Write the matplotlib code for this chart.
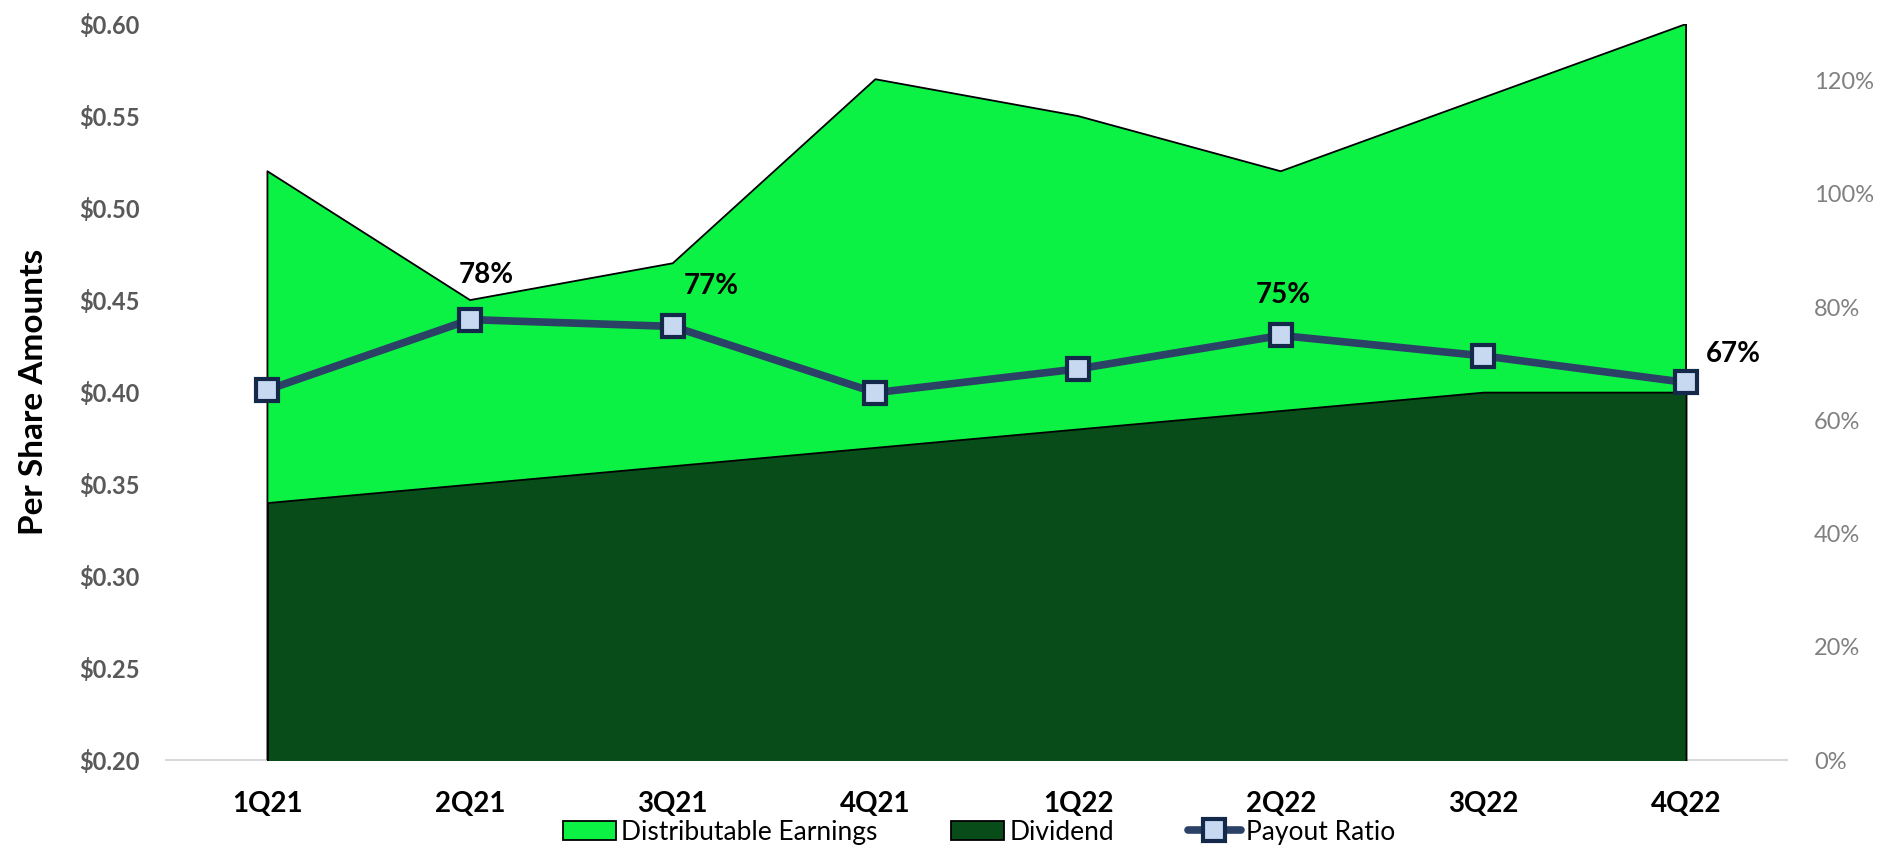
import matplotlib.pyplot as plt
import matplotlib as mpl
import numpy as np
from matplotlib.ticker import FuncFormatter

mpl.rcParams['font.family'] = ['Lato', 'DejaVu Sans']

quarters = ['1Q21', '2Q21', '3Q21', '4Q21', '1Q22', '2Q22', '3Q22', '4Q22']
distributable = [0.52, 0.45, 0.47, 0.57, 0.55, 0.52, 0.56, 0.60]
dividend = [0.34, 0.35, 0.36, 0.37, 0.38, 0.39, 0.40, 0.40]
payout = [0.654, 0.778, 0.766, 0.649, 0.691, 0.75, 0.714, 0.667]
labeled = {1: '78%', 2: '77%', 5: '75%', 7: '67%'}

green = '#0CF244'
dark_green = '#084C19'
line_col = '#2B4266'

x = np.arange(len(quarters))

fig = plt.figure(figsize=(18.94, 8.58), dpi=100)
ax = fig.add_axes([0.0877, 0.114, 0.856, 0.858])

ax.fill_between(x, 0, distributable, facecolor=green, edgecolor='black', linewidth=1.3,
                label='Distributable Earnings', zorder=2)
ax.fill_between(x, 0, dividend, facecolor=dark_green, edgecolor='black', linewidth=1.3,
                label='Dividend', zorder=3)

ax.set_xlim(-0.5, len(quarters) - 0.5)
ax.set_ylim(0.20, 0.60)
ax.set_yticks(np.arange(0.20, 0.601, 0.05))
ax.yaxis.set_major_formatter(FuncFormatter(lambda v, p: f'${v:.2f}'))
ax.set_xticks(x)
ax.set_xticklabels(quarters, fontsize=20, fontweight='bold', color='black')
for lab in ax.get_yticklabels():
    lab.set_fontweight('bold')
ax.tick_params(axis='y', labelsize=17, colors='#595959', length=0, pad=19)
ax.tick_params(axis='x', length=0, pad=22)
for s in ['top', 'right', 'left']:
    ax.spines[s].set_visible(False)
ax.spines['bottom'].set_color('#D9D9D9')
ax.spines['bottom'].set_linewidth(1.5)
ax.spines['bottom'].set_zorder(1)
ax.set_ylabel('Per Share Amounts', fontsize=24, fontweight='bold', color='black')
ax.yaxis.set_label_coords(-0.073, 0.5)

ax2 = ax.twinx()
ax2.plot(x, payout, color=line_col, linewidth=5.5, marker='s', markersize=16,
         markerfacecolor='#C6D9F1', markeredgecolor='#14284A', markeredgewidth=3,
         label='Payout Ratio', zorder=5, solid_capstyle='round')
ax2.set_ylim(0, 1.3)
ax2.set_yticks(np.arange(0, 1.21, 0.2))
ax2.yaxis.set_major_formatter(FuncFormatter(lambda v, p: f'{v*100:.0f}%'))
ax2.tick_params(axis='y', labelsize=17, colors='#808080', length=0, pad=19)
for s in ['top', 'right', 'left', 'bottom']:
    ax2.spines[s].set_visible(False)

offsets = {1: (12, 23), 2: (28, 20), 5: (2, 20), 7: (34, 11)}
for i, txt in labeled.items():
    ax2.annotate(txt, (x[i], payout[i]), xytext=offsets[i], textcoords='offset points',
                 ha='center', va='bottom', fontsize=20, fontweight='bold', color='black')

h1, l1 = ax.get_legend_handles_labels()
h2, l2 = ax2.get_legend_handles_labels()
fig.legend(h1 + h2, l1 + l2, loc='lower center', bbox_to_anchor=(0.517, -0.012), ncol=3,
           frameon=False, fontsize=19, handlelength=2.0, columnspacing=2.8, handletextpad=0.2)

fig.savefig('out.png', dpi=100)
